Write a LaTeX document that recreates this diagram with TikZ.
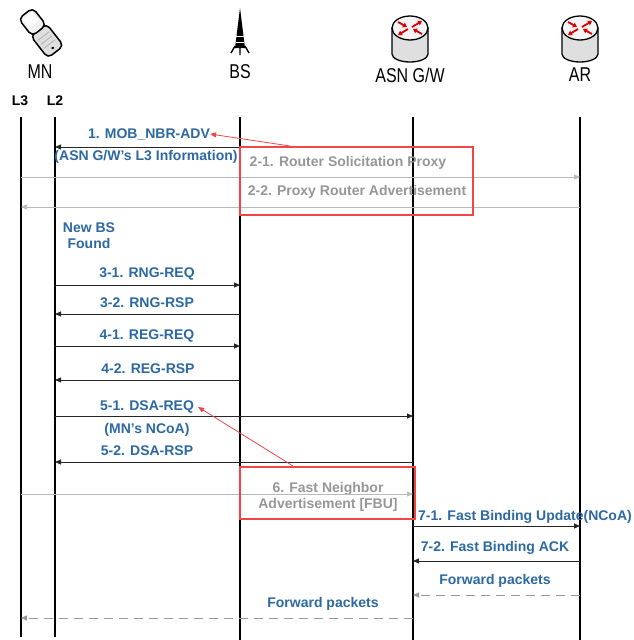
\documentclass[tikz,border=0pt]{standalone}
\usepackage{fontspec}
\setmainfont{Liberation Sans}
\usetikzlibrary{positioning,arrows.meta}
\definecolor{msgblue}{RGB}{44,104,162}
\definecolor{msggray}{RGB}{150,150,150}
\definecolor{boxred}{RGB}{242,70,70}
\tikzset{life/.style={line width=1.6pt,black},
  msg/.style={line width=0.9pt,black!85,->},
  gmsg/.style={line width=0.7pt,gray!55,-{Triangle[length=6pt,width=5pt]}},
  fwd/.style={line width=1pt,gray!80,dash pattern=on 9pt off 6pt,->},
  lbl/.style={text=msgblue,font=\bfseries\fontsize{14}{16}\selectfont,inner sep=0pt},
  glbl/.style={text=msggray,font=\bfseries\fontsize{14}{16}\selectfont,inner sep=0pt},
  hdr/.style={font=\fontsize{20}{22}\selectfont,inner sep=0pt},
  lyr/.style={font=\bfseries\fontsize{14}{16}\selectfont,inner sep=0pt},
  redbox/.style={draw=boxred,line width=1.3pt,inner sep=0pt},
  redarr/.style={draw=boxred,line width=0.8pt,-{Triangle[length=6pt,width=5pt]}}}
\newcommand{\hname}[1]{\scalebox{0.8}[1]{#1}}
\newcommand{\rtricon}[1]{%
  \begin{scope}[shift={#1}]
    \draw[line width=1.3pt,fill=gray!25] (-18,0) -- (-18,26) arc[start angle=180,end angle=0,x radius=18,y radius=8] -- (18,0) -- cycle;
    \draw[line width=1.3pt,fill=gray!8] (0,0) ellipse[x radius=18,y radius=12];
    \draw[red!85!black,line width=1.8pt,-{Triangle[length=4pt,width=5pt]}] (-2,1) -- (-12,7);
    \draw[red!85!black,line width=1.8pt,-{Triangle[length=4pt,width=5pt]}] (2,-1) -- (12,-7);
    \draw[red!85!black,line width=1.8pt,-{Triangle[length=4pt,width=5pt]}] (-12,-6) -- (-3,-1);
    \draw[red!85!black,line width=1.8pt,-{Triangle[length=4pt,width=5pt]}] (12,6) -- (3,1);
  \end{scope}}

\begin{document}
\begin{tikzpicture}[x=1pt,y=-1pt,>={Triangle[length=6pt,width=5pt]}]
    \useasboundingbox (0,0) rectangle (634,640);

    % icons
    \begin{scope}[shift={(41,33)},rotate=38]
        \draw[line width=1.5pt,fill=gray!25,rounded corners=5pt] (-10,-4) rectangle (10,24);
        \draw[line width=1.5pt,fill=gray!12,rounded corners=5pt] (-9,-25) rectangle (9,-3);
        \fill[gray!3] (-6,-22) rectangle (6,-11);
        \draw[gray!60,line width=0.8pt] (-7,4) -- (7,4) (-7,9) -- (7,9) (-7,14) -- (7,14);
        \fill[black] (0,19) circle (1.5);
    \end{scope}
    \fill[black] (240,8) -- (235,48) -- (245,48) -- cycle;
    \draw[white,line width=0.7pt] (236.2,36) -- (243.8,36) (235.6,42) -- (244.4,42);
    \draw[black,line width=1.4pt] (235,46) -- (231,53) (245,46) -- (249,53) (240,48) -- (240,55);
    \rtricon{(410,28)}
    \rtricon{(580,28)}

    % headers
    \node[hdr] (hmn) at (40,72) {\hname{MN}};
    \node[hdr] (hbs) at (240,72) {\hname{BS}};
    \node[hdr] (hgw) at (410,75) {\hname{ASN G/W}};
    \node[hdr] (har) at (580,75) {\hname{AR}};
    \node[lyr] (hl3) at (20,101) {L3};
    \node[lyr] (hl2) at (55,101) {L2};

    % lifelines
    \coordinate (l3t) at (21,117);  \coordinate (l3b) at (21,637);
    \coordinate (l2t) at (55,117);  \coordinate (l2b) at (55,637);
    \coordinate (bst) at (240,117); \coordinate (bsb) at (240,640);
    \coordinate (gwt) at (413,117); \coordinate (gwb) at (413,640);
    \coordinate (art) at (580,117); \coordinate (arb) at (580,640);
    \draw[life] (l3t) -- (l3b);
    \draw[life] (l2t) -- (l2b);
    \draw[life] (bst) -- (bsb);
    \draw[life] (gwt) -- (gwb);
    \draw[life] (art) -- (arb);

    % message end points
    \coordinate (m1a) at (240,147); \coordinate (m1b) at (55,147);
    \coordinate (m2a) at (21,177);  \coordinate (m2b) at (580,177);
    \coordinate (m3a) at (580,207); \coordinate (m3b) at (21,207);
    \coordinate (m4a) at (55,285);  \coordinate (m4b) at (240,285);
    \coordinate (m5a) at (240,314); \coordinate (m5b) at (55,314);
    \coordinate (m6a) at (55,346);  \coordinate (m6b) at (240,346);
    \coordinate (m7a) at (240,380); \coordinate (m7b) at (55,380);
    \coordinate (m8a) at (55,416);  \coordinate (m8b) at (413,416);
    \coordinate (m9a) at (413,462); \coordinate (m9b) at (55,462);
    \coordinate (m10a) at (21,494); \coordinate (m10b) at (413,494);
    \coordinate (m11a) at (413,526); \coordinate (m11b) at (580,526);
    \coordinate (m12a) at (580,561); \coordinate (m12b) at (413,561);
    \coordinate (m13a) at (580,595); \coordinate (m13b) at (413,595);
    \coordinate (m14a) at (413,618); \coordinate (m14b) at (21,618);

    % labels
    \node[lbl] (t1) at (149,134) {1. MOB\_NBR-ADV};
    \node[lbl] (t1b) at (146,157) {(ASN G/W's L3 Information)};
    \node[glbl] (t2) at (348,163) {2-1. Router Solicitation Proxy};
    \node[glbl] (t3) at (357,192) {2-2. Proxy Router Advertisement};
    \node[lbl,align=center] (t0) at (89,236) {New BS\\ Found};
    \node[lbl] (t4) at (147,274) {3-1. RNG-REQ};
    \node[lbl] (t5) at (147,303) {3-2. RNG-RSP};
    \node[lbl] (t6) at (147,336) {4-1. REG-REQ};
    \node[lbl] (t7) at (148,369) {4-2. REG-RSP};
    \node[lbl] (t8) at (147,407) {5-1. DSA-REQ};
    \node[lbl] (t8b) at (147,430) {(MN's NCoA)};
    \node[lbl] (t9) at (147,451) {5-2. DSA-RSP};
    \node[glbl,align=center] (t10) at (328,497) {6. Fast Neighbor\\ Advertisement [FBU]};
    \node[lbl] (t11) at (525,517) {7-1. Fast Binding Update(NCoA)};
    \node[lbl] (t12) at (495,548) {7-2. Fast Binding ACK};
    \node[lbl] (t13) at (495,581) {Forward packets};
    \node[lbl] (t14) at (323,604) {Forward packets};

    % messages
    \draw[msg] (m1a) -- (m1b);
    \draw[gmsg] (m2a) -- (m2b);
    \draw[gmsg] (m3a) -- (m3b);
    \draw[msg] (m4a) -- (m4b);
    \draw[msg] (m5a) -- (m5b);
    \draw[msg] (m6a) -- (m6b);
    \draw[msg] (m7a) -- (m7b);
    \draw[msg] (m8a) -- (m8b);
    \draw[msg] (m9a) -- (m9b);
    \draw[gmsg] (m10a) -- (m10b);
    \draw[msg] (m11a) -- (m11b);
    \draw[msg] (m12a) -- (m12b);
    \draw[fwd] (m13a) -- (m13b);
    \draw[fwd] (m14a) -- (m14b);

    % proxy boxes
    \node[redbox,minimum width=233pt,minimum height=68pt] (rb1) at (356.5,181) {};
    \node[redbox,minimum width=175pt,minimum height=52pt] (rb2) at (327.5,493) {};
    \coordinate (r1) at (290,146);
    \coordinate (r2) at (293,466);
    \draw[redarr] (r1) -- (t1.east);
    \draw[redarr] (r2) -- ([xshift=4pt]t8.east);
\end{tikzpicture}
\end{document}
